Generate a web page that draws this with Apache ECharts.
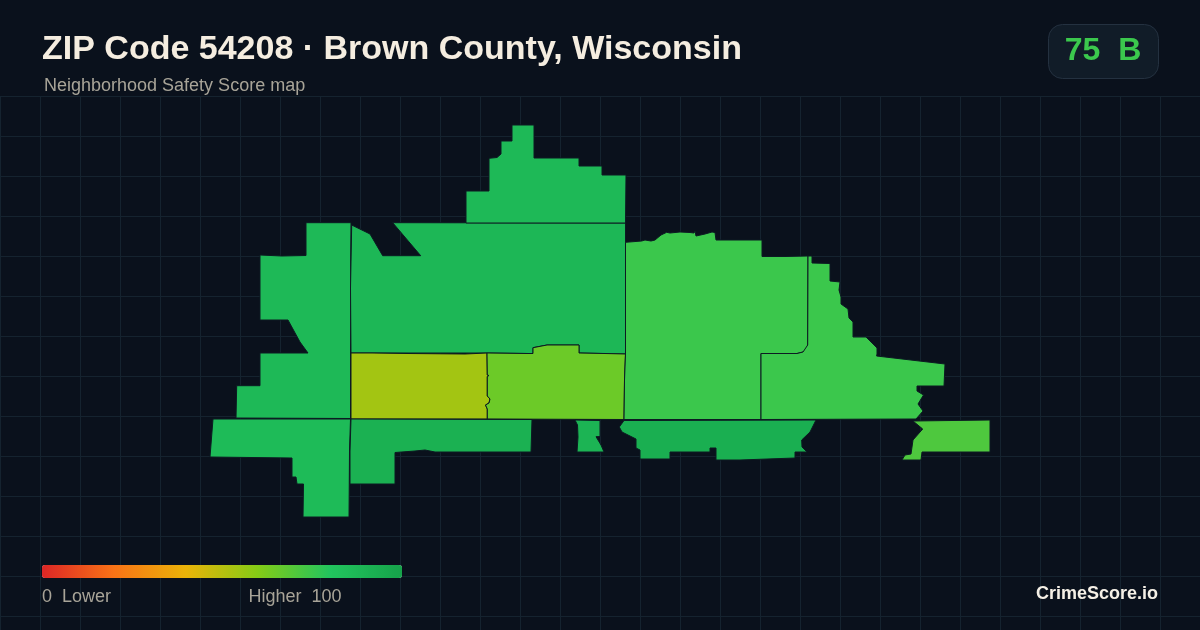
<!DOCTYPE html>
<html>
<head>
<meta charset="utf-8">
<style>html,body{margin:0;padding:0;background:#0a111c}#c{width:1200px;height:630px}</style>
<script src="https://cdn.jsdelivr.net/npm/echarts@6/dist/echarts.min.js"></script>
</head>
<body>
<div id="c"></div>
<script>
const titleText = 'ZIP Code 54208 · Brown County, Wisconsin';
const subtitleText = 'Neighborhood Safety Score map';
const badgeText = '75  B';
const brandText = 'CrimeScore.io';
const lowLabel = '0  Lower';
const highLabel = 'Higher  100';
const scaleColors = ['#dc2626', '#f97316', '#eab308', '#84cc16', '#22c55e', '#16a34a'];

const tractNames = ['West', 'Center', 'North', 'Yellow', 'Lime', 'East', 'Northeast', 'FarEast', 'Southwest', 'South', 'Islet', 'Southeast'];
const tractScores = [87, 88, 87, 54, 65, 75, 75, 71, 86, 92, 90, 93];
const tractOutlines = [
  [[306,222.7],[351,222.7],[350.5,288],[350.5,418.5],[236,418],[236.7,385.7],[260,385.7],[260,353],[308,353],[300,342],[288,320],[260,320],[260,255],[282,256],[306,255.5]],
  [[351.7,225],[370,234],[382.7,255.7],[420.7,255.7],[392.7,222.7],[625.5,223],[625.5,354],[579,353],[579,345],[547,345],[533,347.7],[533,353.5],[528,353.5],[487,353],[351,353],[350.5,288]],
  [[466,223],[466,191],[489,191],[489,158.3],[497,157.5],[501,154],[501,141],[512,141],[512,125],[534,125],[534,158],[579,158],[579,166],[602,166],[602,175],[626,175],[625.5,223]],
  [[351,353],[372,353],[373,354],[408,353.5],[409,354],[465,354],[466,353.5],[487,353],[487.3,375],[489,375.5],[487.3,376.5],[487.3,396],[490,399],[489,403],[485.5,405],[487.3,409],[487.3,419],[351,419]],
  [[487,353],[528,353.5],[533,353.5],[533,347.7],[547,345],[579,345],[579,353],[605,353.5],[625.5,354],[624.5,380],[624,419.5],[487.3,419],[487.3,409],[485.5,405],[489,403],[490,399],[487.3,396],[487.3,376.5],[489,375.5],[487.3,375]],
  [[625.5,242.3],[641.7,241],[645,240],[651,241],[655,240],[661,235],[666.7,232.3],[670,233],[680,232],[690,232.5],[694,233],[695,231],[696,236],[705,234],[712,232],[715,232.5],[716,240],[742,240],[762,240],[762,256.5],[785,256.5],[808,256],[807.7,345],[807,348],[803,352],[797,353.5],[761,353.5],[761,419.5],[624,419.5],[624.5,380],[625.5,354]],
  [[809,256],[812,256],[812,263],[830,263.5],[830,281],[840,282],[839,290],[841,297],[841,304],[848,309],[849,318],[853,322],[853,337],[866,337],[877,348],[877,354],[876.6,356],[945,364],[944,386],[917,386],[917,391],[923.5,395],[918,404],[923,411],[916,419],[761,419.5],[761,353.5],[797,353.5],[803,352],[807.7,345],[808,256]],
  [[913,421],[990,420],[990,452],[922,452],[921,460],[902,460],[905,455],[911,454],[913,440],[922.7,429]],
  [[213,419],[350.5,419],[349.5,451],[349,517],[303,517],[303.5,484],[297,484],[296,477],[292,477],[292,458],[251,457.5],[210,457]],
  [[351,419],[532,419.5],[531,452],[435,452],[425,450],[415,451],[395,452.5],[395,484],[350,484],[350,451]],
  [[575,420],[600,420.5],[600,436.5],[596,436.7],[601,445],[604,452],[577,452],[578,437],[577.5,425]],
  [[624,420.5],[619.3,427],[622,432],[636,439],[636,448],[640,450],[640,459],[670,459],[670,452],[710,452],[710,448],[716,448],[716,460],[740,460],[740,459],[795,458],[795,452],[807,452],[802,447],[801.7,440],[810,432],[816,420]]
];

const tractGeo = {
  type: 'FeatureCollection',
  features: tractNames.map((name, i) => ({
    type: 'Feature',
    properties: { name },
    geometry: { type: 'Polygon', coordinates: [tractOutlines[i].concat([tractOutlines[i][0]])] }
  }))
};
echarts.registerMap('zip54208', tractGeo);

const chart = echarts.init(document.getElementById('c'), null, { renderer: 'canvas' });
const gridColor = '#15232f';
chart.setOption({
  animation: false,
  backgroundColor: '#0a111c',
  title: [
    { text: titleText, left: 42, top: 33, padding: 0, textStyle: { color: '#f5ede0', fontFamily: 'Liberation Sans', fontWeight: 'bold', fontSize: 34 } },
    { text: subtitleText, left: 44, top: 77, padding: 0, textStyle: { color: '#a8a498', fontFamily: 'Liberation Sans', fontWeight: 'normal', fontSize: 18 } }
  ],
  grid: { left: 0, right: 0, top: 96, bottom: 0 },
  xAxis: { type: 'value', min: 0, max: 1200, interval: 40, axisLine: { show: false }, axisTick: { show: false }, axisLabel: { show: false }, splitLine: { show: true, lineStyle: { color: gridColor, width: 1 } } },
  yAxis: { type: 'value', inverse: true, min: 0, max: 534, interval: 40, axisLine: { show: false }, axisTick: { show: false }, axisLabel: { show: false }, splitLine: { show: true, lineStyle: { color: gridColor, width: 1 } } },
  visualMap: {
    type: 'continuous', min: 0, max: 100, orient: 'horizontal', left: 42, top: 565, padding: 0,
    itemWidth: 13, itemHeight: 360, calculable: false, hoverLink: false, text: null, showLabel: false,
    inRange: { color: scaleColors }, seriesIndex: 0, textStyle: { color: 'rgba(0,0,0,0)', fontSize: 1 }, formatter: () => ''
  },
  series: [{
    type: 'map', map: 'zip54208', roam: false, silent: true, aspectScale: 1,
    projection: { project: p => p, unproject: p => p },
    left: 210, top: 125, width: 780, height: 392,
    label: { show: false },
    itemStyle: { borderColor: '#0c1a22', borderWidth: 1 },
    data: tractNames.map((name, i) => ({ name, value: tractScores[i] }))
  }],
  graphic: [
    { type: 'rect', z: 100, shape: { x: 1048.5, y: 24.5, width: 110, height: 54, r: 14 }, style: { fill: '#111c28', stroke: '#243140', lineWidth: 1 } },
    { type: 'text', z: 101, x: 1103, y: 51, style: { text: badgeText, fill: '#3bc84d', font: 'bold 32px "Liberation Sans"', align: 'center', verticalAlign: 'middle' } },
    { type: 'text', z: 101, x: 42, y: 597.5, style: { text: lowLabel, fill: '#a8a498', font: '18px "Liberation Sans"', align: 'left', verticalAlign: 'middle' } },
    { type: 'text', z: 101, x: 341.5, y: 597.5, style: { text: highLabel, fill: '#a8a498', font: '18px "Liberation Sans"', align: 'right', verticalAlign: 'middle' } },
    { type: 'text', z: 101, x: 1158, y: 594.5, style: { text: brandText, fill: '#f5f0e6', font: 'bold 18px "Liberation Sans"', align: 'right', verticalAlign: 'middle' } }
  ]
});
</script>
</body>
</html>
